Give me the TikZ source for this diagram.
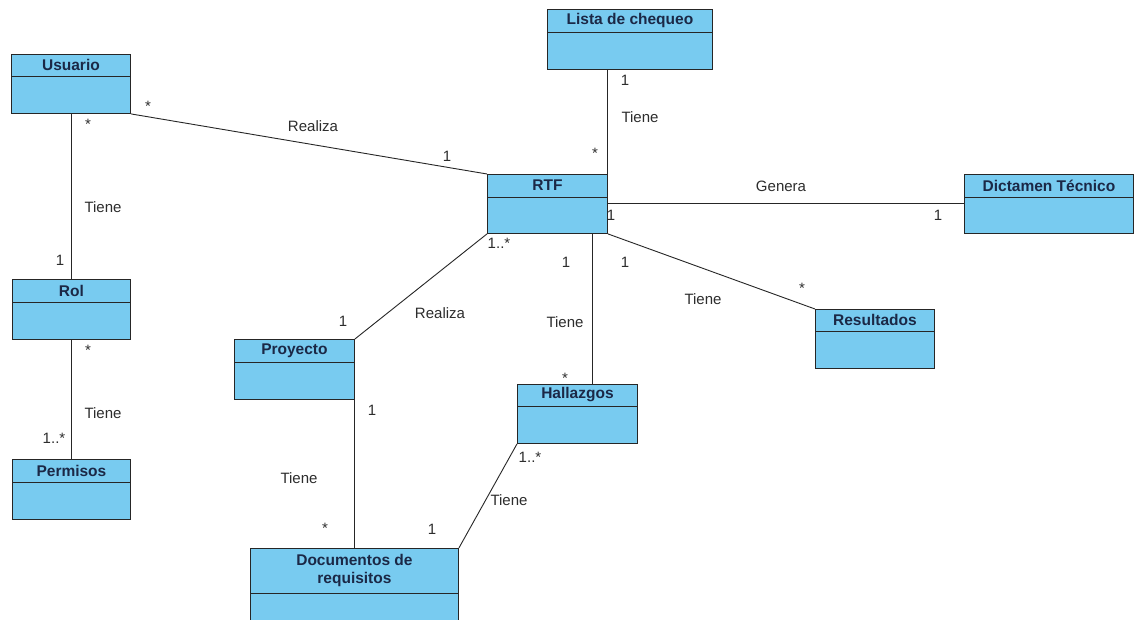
\documentclass[tikz,border=0pt]{standalone}
\usepackage{fontspec}
\setmainfont{Liberation Sans}
\usetikzlibrary{calc}

\definecolor{clsfill}{RGB}{120,203,240}
\definecolor{clstext}{RGB}{27,40,70}
\definecolor{lbltext}{RGB}{45,45,45}

\tikzset{
  clsbox/.style={draw=black!85, line width=0.9pt, fill=clsfill, rectangle, inner sep=0pt},
  clsline/.style={draw=black!85, line width=0.9pt},
  clstitle/.style={font=\fontsize{15.5}{17}\selectfont\bfseries, text=clstext, align=center, inner sep=0pt},
  assoc/.style={draw=black!85, line width=0.9pt},
  lbl/.style={font=\fontsize{15}{17}\selectfont, text=lbltext, inner sep=0pt},
  mult/.style={font=\fontsize{15}{17}\selectfont, text=lbltext, inner sep=0pt},
}

% #1 name, #2 x, #3 y (top left), #4 width, #5 height, #6 header height, #7 title
\newcommand\classbox[7]{%
  \node[clsbox, minimum width=#4pt, minimum height=#5pt, anchor=north west] (#1) at (#2,#3) {};
  \draw[clsline] ([yshift=-#6pt]#1.north west) -- ([yshift=-#6pt]#1.north east);
  \node[clstitle] (#1-title) at ([yshift=-#6pt/2]#1.north) {#7};
}

\begin{document}
\begin{tikzpicture}[x=1pt, y=-1pt]
\useasboundingbox (0,0) rectangle (1135,620);
\fill[white] (0,0) rectangle (1135,620);
\clip (0,0) rectangle (1135,620);

% classes
\classbox{usuario}{11}{54}{119}{59}{22}{Usuario}
\classbox{rol}{12}{279}{118}{60}{23}{Rol}
\classbox{permisos}{12}{459}{118}{60}{23}{Permisos}
\classbox{lista}{547}{9}{165}{60}{23}{Lista de chequeo}
\classbox{rtf}{487}{174}{120}{59}{23}{RTF}
\classbox{dictamen}{964}{174}{169}{59}{23}{Dictamen Técnico}
\classbox{resultados}{815}{309}{119}{59}{22}{Resultados}
\classbox{hallazgos}{517}{384}{120}{59}{22}{Hallazgos}
\classbox{proyecto}{234}{339}{120}{60}{23}{Proyecto}
\classbox{docs}{250}{548}{208}{80}{45}{Documentos de\\[1pt]requisitos}

% attachment points
\coordinate (rtfhall) at ($(rtf.south east)+(-15,0)$);

% associations
\draw[assoc] (usuario.south east) -- (rtf.north west);
\draw[assoc] (usuario.south) -- (usuario.south |- rol.north);
\draw[assoc] (rol.south) -- (rol.south |- permisos.north);
\draw[assoc] (rtf.north east) -- (rtf.north east |- lista.south);
\draw[assoc] (rtf.east) -- (dictamen.west);
\draw[assoc] (rtf.south west) -- (proyecto.north east);
\draw[assoc] (rtfhall) -- (rtfhall |- hallazgos.north);
\draw[assoc] (rtf.south east) -- (resultados.north west);
\draw[assoc] (proyecto.south east) -- (proyecto.south east |- docs.north);
\draw[assoc] (hallazgos.south west) -- (docs.north east);

% association names
\node[lbl] (l-realiza1) at (313,126) {Realiza};
\node[lbl] (l-tiene1) at (103,207) {Tiene};
\node[lbl] (l-tiene2) at (103,413) {Tiene};
\node[lbl] (l-tiene3) at (640,117) {Tiene};
\node[lbl] (l-genera) at (781,186) {Genera};
\node[lbl] (l-realiza2) at (440,313) {Realiza};
\node[lbl] (l-tiene4) at (565,322) {Tiene};
\node[lbl] (l-tiene5) at (703,299) {Tiene};
\node[lbl] (l-tiene6) at (299,478) {Tiene};
\node[lbl] (l-tiene7) at (509,500) {Tiene};

% multiplicities
\node[mult] (m1) at (148,106) {*};
\node[mult] (m2) at (447,156) {1};
\node[mult] (m3) at (88,124) {*};
\node[mult] (m4) at (60,260) {1};
\node[mult] (m5) at (88,350) {*};
\node[mult] (m6) at (54,438) {1..*};
\node[mult] (m7) at (625,80) {1};
\node[mult] (m8) at (595,153) {*};
\node[mult] (m9) at (611,215) {1};
\node[mult] (m10) at (938,215) {1};
\node[mult] (m11) at (499,243) {1..*};
\node[mult] (m12) at (343,321) {1};
\node[mult] (m13) at (566,262) {1};
\node[mult] (m14) at (565,378) {*};
\node[mult] (m15) at (625,262) {1};
\node[mult] (m16) at (802,288) {*};
\node[mult] (m17) at (372,410) {1};
\node[mult] (m18) at (325,528) {*};
\node[mult] (m19) at (530,457) {1..*};
\node[mult] (m20) at (432,529) {1};
\end{tikzpicture}
\end{document}
